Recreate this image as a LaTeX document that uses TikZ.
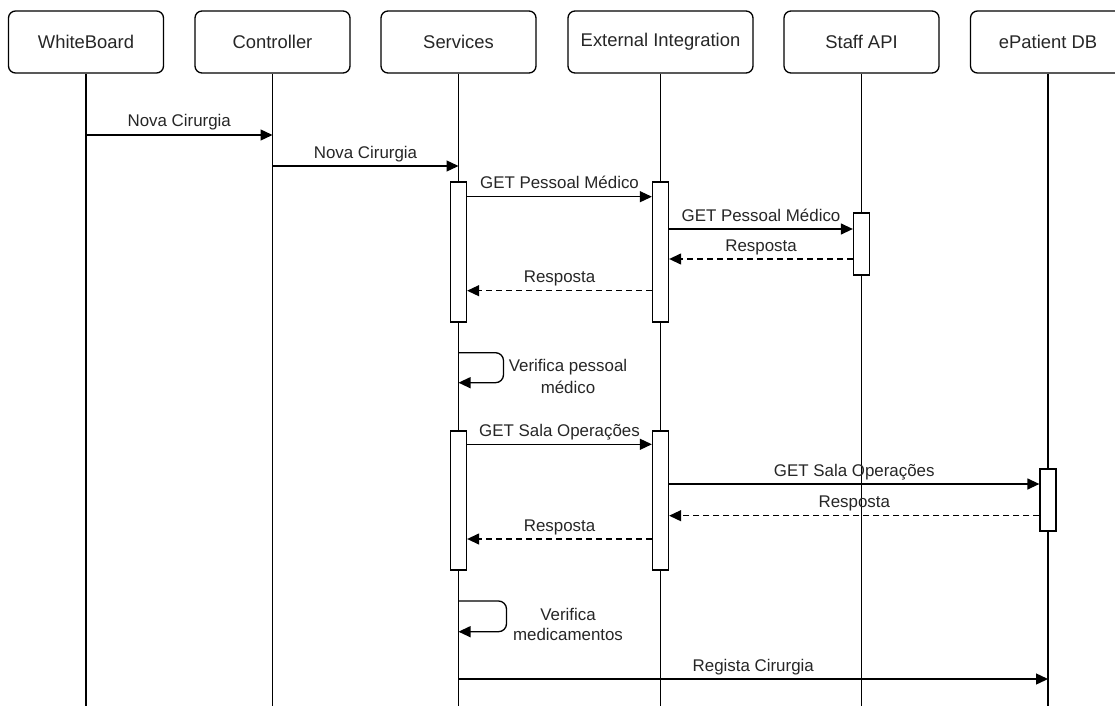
\documentclass[tikz,border=0pt]{standalone}
\usepackage{fontspec}
\setmainfont{Liberation Sans}
\usetikzlibrary{arrows.meta}
\begin{document}
\begin{tikzpicture}[x=1pt,y=-1pt,
  line width=1.3pt,
  actor/.style={draw, rounded corners=7pt, minimum width=155pt, minimum height=62pt,
    font=\fontsize{18.4}{22}\selectfont, text=black!85, inner sep=0pt},
  bar/.style={draw, fill=white, minimum width=16pt, inner sep=0pt},
  msg/.style={-{Triangle[length=12pt,width=11pt]}},
  reply/.style={msg, dash pattern=on 6pt off 4pt},
  lbl/.style={font=\fontsize{16.9}{21}\selectfont, text=black!85, inner sep=0pt,
    align=center, anchor=base, yshift=8pt}]

\useasboundingbox (0,0) rectangle (1115,706);

% participants
\node[actor] (wb) at (86,42) {WhiteBoard};
\node[actor] (ct) at (272.5,42) {Controller};
\node[actor] (sv) at (458.5,42) {Services};
\node[actor, minimum width=185pt] (ei) at (660.5,42) {External Integration};
\node[actor] (st) at (861.5,42) {Staff API};
\node[actor] (ep) at (1048,42) {ePatient DB};

% lifeline ends
\coordinate (wbE) at (86,706);
\coordinate (ctE) at (272.5,706);
\coordinate (svE) at (458.5,706);
\coordinate (eiE) at (660.5,706);
\coordinate (stE) at (861.5,706);
\coordinate (epE) at (1048,706);

\foreach \p in {wb,ct,sv,ei,st,ep}
  \draw (\p.south) -- (\p E);

% activation bars
\node[bar, minimum height=140pt] (sv1) at (458.5,252) {};
\node[bar, minimum height=140pt] (ei1) at (660.5,252) {};
\node[bar, minimum height=62pt] (st1) at (861.5,244) {};
\node[bar, minimum height=139pt] (sv2) at (458.5,500.5) {};
\node[bar, minimum height=139pt] (ei2) at (660.5,500.5) {};
\node[bar, minimum height=62pt] (ep1) at (1048,500) {};

% messages
\draw[msg] (wbE |- 0,135) -- node[lbl] {Nova Cirurgia} (ctE |- 0,135);
\draw[msg] (ctE |- 0,166) -- node[lbl] {Nova Cirurgia} (svE |- 0,166);

\draw[msg] (sv1.east |- 0,196.7) -- node[lbl] {GET Pessoal Médico} (ei1.west |- 0,196.7);
\draw[msg] (ei1.east |- 0,229) -- node[lbl] {GET Pessoal Médico} (st1.west |- 0,229);
\draw[reply] (st1.west |- 0,259) -- node[lbl] {Resposta} (ei1.east |- 0,259);
\draw[reply] (ei1.west |- 0,290.7) -- node[lbl] {Resposta} (sv1.east |- 0,290.7);

\draw[msg, rounded corners=8pt] (svE |- 0,352.7) -- ++(45,0) -- ++(0,30) -- ++(-45,0);
\node[font=\fontsize{16.9}{22}\selectfont, text=black!85, align=center, inner sep=0pt]
  (loop1) at (568,376) {Verifica pessoal\\médico};

\draw[msg] (sv2.east |- 0,444.3) -- node[lbl] {GET Sala Operações} (ei2.west |- 0,444.3);
\draw[msg] (ei2.east |- 0,484) -- node[lbl] {GET Sala Operações} (ep1.west |- 0,484);
\draw[reply] (ep1.west |- 0,515.7) -- node[lbl] {Resposta} (ei2.east |- 0,515.7);
\draw[reply] (ei2.west |- 0,539) -- node[lbl] {Resposta} (sv2.east |- 0,539);

\draw[msg, rounded corners=8pt] (svE |- 0,601) -- ++(48,0) -- ++(0,30.7) -- ++(-48,0);
\node[font=\fontsize{16.9}{20}\selectfont, text=black!85, align=center, inner sep=0pt]
  (loop2) at (568,624.5) {Verifica\\medicamentos};

\draw[msg] (svE |- 0,679) -- node[lbl] {Regista Cirurgia} (epE |- 0,679);

\end{tikzpicture}
\end{document}
